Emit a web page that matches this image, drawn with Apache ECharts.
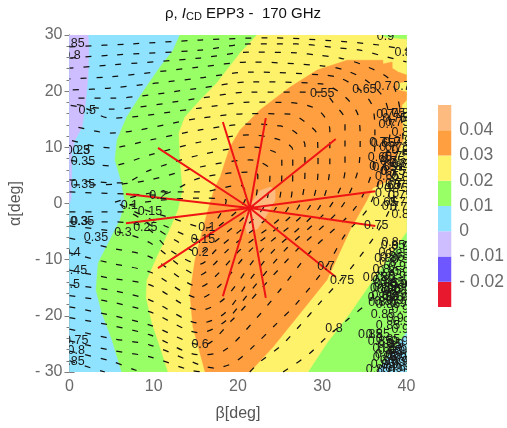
<!DOCTYPE html>
<html><head><meta charset="utf-8">
<style>html,body{margin:0;padding:0;background:#fff}#c{width:507px;height:428px}</style>
<script src="https://cdn.jsdelivr.net/npm/echarts@6/dist/echarts.min.js"></script></head>
<body><div id="c"></div>
<script>
const xTicks=[0,40], yTicks=[-30,30];
const legendLevels=[-0.03,-0.02,-0.01,0,0.01,0.02,0.03,0.04,0.05];
const legendColors=['#E8192F','#6E57FF','#CFBEFF','#8FE3FF','#99FF66','#FFF26B','#FF9F40','#FDBB80'];
// filled bands: [beta, alpha]
const regionBase=[[0,30],[40,30],[40,-30],[0,-30]];
const regionPurple=[[0,30],[2.2,30],[2.3,27.3],[2.2,22.5],[1.85,17.2],[1.5,13.6],[.65,11.3],[.25,9],[.25,5],[.2,1],[0,0]];
const regionGreen=[[13.1,30],[12.3,27.3],[10.75,24.3],[8.7,19.85],[6.8,15.4],[5.65,11.3],[5.4,7.75],[6.2,3.65],[6.6,.1],[6,-2.95],[4.8,-6.5],[3.4,-10.6],[3.15,-15.4],[3.85,-19.5],[5.05,-24.3],[6.2,-30],[40,-30],[40,30]];
const regionYellow=[[22.25,30],[21.4,28.6],[20.25,26.8],[17.5,21.45],[15.5,18.4],[13.7,15.4],[13,12.55],[13.1,8.3],[13.45,2.4],[12.9,-1.15],[11.9,-4.7],[10.4,-9.5],[9.2,-13.6],[9.1,-16.65],[9.8,-21.3],[10.75,-25.55],[11.7,-30],[28.3,-30],[30.55,-24.85],[33.3,-19.5],[36,-13.6],[40,-5.05],[40,30]];
const regionCorner=[[36.5,-30],[37.7,-27.6],[40,-23],[40,-30]];
const regionStrip=[[37,30],[40,30],[40,29.3],[37.6,29.6]];
const regionOrange=[[16.1,-30],[14.65,-22],[14.3,-15.95],[14.9,-10.05],[15.7,-5.25],[16.45,-1.15],[17.15,2.4],[17.9,4.75],[19.05,10.05],[20.25,13.1],[22.6,16.65],[26.2,20.75],[29.4,23.75],[32.95,25.5],[37.2,25.5],[37.2,24.85],[38.3,25.2],[38.3,24.1],[39,23.4],[40,22.9],[40,21.7],[38.9,21.45],[39,20.2],[40,19.85],[40,18.4],[39.45,17.55],[39.6,11.3],[38.4,6.5],[38.05,4.2],[36,2.75],[35.3,.6],[33.3,-4.7],[30.55,-13.6],[27.4,-19.5],[24.15,-25.55],[21.4,-30]];
const regionPeak=[[23.8,2.95],[22.6,2.25],[21.6,.1],[20.7,-3],[21.1,-5.4],[22.3,-4.5],[23.4,-2.05],[24.4,.6],[24.4,2.5]];
// rho contours
const rho10=[[7.1,-.25],[10.75,.6],[15.5,.95],[18.6,.6],[18.35,-.8],[16.35,-4.35],[11.9,-2.5],[7.1,-.25]];
const rho15=[[5.4,.25],[10.75,2.05],[15.5,2.05],[20.25,3.3],[21,1.5],[20.25,-.8],[16.9,-5.05],[15.85,-6.5],[11.35,-4],[5.4,.25]];
const rho20=[[0,-1.5],[6.6,-1.5],[9.55,-3.8],[12.5,-6.5],[15.5,-8.8],[16.1,-8.25],[21.65,-.8],[22.35,5.1],[21.4,5.6],[15.5,4.55],[10.5,1.5],[6.6,1.7],[0,2.05]];
const rho25=[[0,-3.25],[4.8,-3.25],[9,-4.2],[11.9,-8.25],[15.5,-10.8],[17.4,-8.25],[23,-.8],[23.8,5.95],[22.6,7.4],[21.4,7.75],[15.5,6.5],[9.55,4.2],[6,3.45],[0,3.3]];
const rho30=[[0,-4],[6.35,-5.25],[9.55,-7],[15.5,-12.75],[16.7,-11.5],[18.8,-8.25],[24.5,-.8],[25.2,5.95],[25.2,8.1],[23.8,9.5],[21.4,10.05],[15.5,8.65],[9.55,5.95],[6.35,3.65],[3.6,3.8],[0,4.2]];
const rho35=[[0,-6.15],[4.8,-7.9],[9.55,-9.5],[15.5,-14.85],[17.3,-13],[20.25,-8.25],[25.95,-.8],[26.5,5.95],[26.5,9.5],[25,11.3],[21.4,12.2],[15.5,10.95],[9.55,8.65],[4.8,6.7],[0,7.75]];
const rho40=[[0,-8.8],[4.8,-10.6],[9.55,-12.2],[15.5,-16.85],[17.9,-14.5],[21.5,-8.25],[27.1,-.8],[27.95,5.95],[27.95,10.4],[26.8,12.7],[25,13.8],[21.4,14.15],[15.5,13.1],[9.55,11.3],[4.8,9.9],[0,11.3]];
const rho45=[[0,-11.85],[4.8,-13.3],[9.55,-14.5],[15.5,-19],[18.45,-16.85],[22.85,-8.25],[28.4,-.8],[29.5,5.95],[29.4,12.2],[27.95,14.5],[26.2,15.9],[21.4,16],[15.5,15.2],[4.8,12.55],[0,14]];
const rho50=[[0,-14.5],[4.8,-15.4],[9.55,-17.2],[15.5,-21.3],[18.45,-19.5],[21.4,-13.6],[24.3,-8.25],[29.6,-.8],[30.9,6.85],[30.9,13.1],[29.5,16.65],[26.2,17.95],[21.4,18.05],[15.5,17],[4.8,15.2],[1.8,17],[0,17.5]];
const rho55=[[0,-16.4],[4.8,-17.5],[9.55,-19.3],[15.5,-23],[18.45,-21],[21.4,-15.75],[25.6,-8.25],[30.8,-.8],[32.7,5.95],[32.7,14.85],[31.5,17.55],[29.95,19.85],[21.4,19.85],[15.5,18.75],[4.8,16.8],[0,17.9]];
const rho60=[[0,-18.4],[4.8,-19.85],[9.55,-21.65],[15.85,-25.2],[19.3,-20.75],[22.6,-15.4],[27,-8.25],[32.2,-.8],[34.25,5.95],[34.5,11.3],[34.25,15.75],[32.7,19],[29.95,21.3],[21.4,21.65],[15.5,20.55],[4.8,18.75],[0,18.75]];
const rho65=[[0,-20.3],[4.8,-21.65],[9.55,-23.4],[15.5,-26.95],[18.45,-26.1],[22,-20.75],[25,-15.4],[28.8,-8.25],[33.9,-.8],[35.95,5.95],[36.25,13.1],[35.9,17.55],[34.5,20.2],[32.1,22.35],[29.95,22.9],[21.4,23.4],[15.5,22.35],[4.8,20.55],[0,20.2]];
const rho70=[[0,-22.35],[4.8,-24],[9.55,-25.2],[15.5,-28.75],[17.3,-29.3],[19.65,-28.2],[22,-25.2],[24.4,-21.65],[26.8,-18.05],[30.45,-11.3],[32.7,-5.6],[35.45,-.8],[37.1,5.95],[38.05,13.1],[37.45,18.4],[35.45,21.65],[32.7,23.75],[29.95,24.5],[21.4,25.2],[15.5,24.3],[4.8,22.55],[0,22.2]];
const rho75a=[[0,-24.45],[4.8,-26.1],[9.55,-27.3],[14.3,-29.65],[16.1,-30]];
const rho75b=[[21.4,-30],[22.6,-28.2],[25.2,-25.2],[27.6,-21.3],[29.5,-18.05],[32.1,-13.75],[33.9,-10.6],[37,-4],[38.65,1.5],[39.6,9.5],[39.25,16.65],[38.05,22],[34.85,24.65],[32.1,25.9],[29.5,26.4],[27,26.8],[21.4,26.95],[15.5,25.9],[4.8,24.65],[0,24.1]];
const rho80a=[[0,25.9],[4.8,26.4],[15.5,27.3],[21.4,28.4],[27,28.4],[31.75,27.7],[34.5,27.3],[36.85,26.4],[40,25.2]];
const rho80b=[[0,-26.3],[4.8,-28],[7.8,-29.65],[8.6,-30]];
const rho80c=[[25.35,-30],[28.3,-26.95],[30.55,-23.75],[32.95,-20.75],[35.7,-17.2],[38.65,-10.95],[40,-6.5]];
const rho85a=[[0,27.9],[7.2,28.4],[15.5,29.1],[23.8,29.5],[30.9,29],[36.85,28.2],[40,27.3]];
const rho85b=[[0,-28],[2.4,-29.2],[4.2,-30]];
const contours=[rho10,rho15,rho20,rho25,rho30,rho35,rho40,rho45,rho50,rho55,rho60,rho65,rho70,rho75a,rho75b,rho80a,rho80b,rho80c,rho85a,rho85b];
// red spokes
const hub=[21.4,-0.8];
const spokeEnds=[[10.5,9.9],[18.2,14.5],[23.3,15.2],[31.6,11.5],[36.3,2.2],[36.3,-4],[31.6,-13.1],[23.3,-16.8],[18.2,-16.5],[10.5,-11.5],[6.7,-3.5],[6.7,1.7]];
// contour labels
const labelsMain=[[.35,28.4,"0.85"],[.3,26.4,"0.8"],[2.1,16.5,"0.5"],[1,9.35,"0.25"],[1.4,9.35,"0.3"],[1.6,7.4,"0.35"],[1.6,3.3,"0.35"],[10.5,1.5,"0.2"],[7.1,-.4,"0.1"],[9.55,-1.5,"0.15"],[1.5,-3.3,"0.35"],[1.2,-3.3,"0.3"],[3.15,-6.15,"0.35"],[6.35,-5.25,"0.3"],[9,-4.2,"0.25"],[.3,-8.8,"0.4"],[.65,-11.85,"0.45"],[.2,-14.35,"0.5"],[.8,-24.45,"0.75"],[.8,-26.25,"0.8"],[.35,-28.05,"0.85"],[16.3,-4.35,"0.1"],[15.85,-6.5,"0.15"],[15.5,-8.8,"0.2"],[15.5,-25.2,"0.6"],[30,19.5,"0.55"],[35,20.2,"0.65"],[37.2,20.9,"0.7"],[39.45,20.9,"0.7"],[37.5,29.8,"0.9"],[39.6,26.8,"0.8"],[37.7,1.7,"0.75"],[32.35,-13.75,"0.75"],[36.4,-4,"0.75"],[30.45,-11.3,"0.7"],[31.4,-22.3,"0.8"]];
const labelsEdge=[[37.45,15.75,"0.7"],[38.4,16.1,"0.75"],[39.25,16.1,"0.8"],[37.7,14,"0.7"],[38.9,14.35,"0.75"],[39.25,12.55,"0.8"],[36.6,10.8,"0.7"],[37.8,10.05,"0.7"],[38.9,10.05,"0.75"],[39.25,9.5,"0.8"],[36.85,8.1,"0.65"],[38.05,8.1,"0.7"],[38.9,8.3,"0.75"],[36.6,6.5,"0.7"],[38.4,6.5,"0.8"],[39.25,6.85,"0.8"],[37.7,4.75,"0.65"],[38.4,5.6,"0.75"],[39,5.1,"0.7"],[39.25,4.55,"0.8"],[37.45,.1,"0.65"],[38.9,.1,"0.7"],[39.25,1.5,"0.75"],[39.25,-2.05,"0.8"],[38.05,-7,"0.8"],[38.4,-7.4,"0.85"],[39.25,-7.75,"0.9"],[37.7,-8.8,"0.8"],[38.9,-9.15,"0.85"],[37.8,-10.6,"0.8"],[38.9,-11.3,"0.9"],[37.2,-13.25,"0.85"],[36.25,-13.25,"0.75"],[38.9,-13.05,"0.9"],[37.45,-15,"0.85"],[39,-14.5,"0.9"],[38.3,-15.75,"0.9"],[36.85,-16.8,"0.85"],[38.65,-17.2,"0.9"],[39.6,-16.8,"0.95"],[37.8,-18.05,"0.85"],[39.25,-18.95,"0.9"],[37.2,-19.85,"0.85"],[38.65,-20.4,"0.9"],[39.8,-21.1,"0.95"],[37.8,-21.65,"0.85"],[39.25,-22.5,"0.9"],[35.7,-23.4,"0.85"],[36.6,-23.4,"0.85"],[38.65,-25.2,"0.9"],[36.85,-24.65,"0.85"],[38.05,-26.1,"0.85"],[39.45,-26.1,"0.95"],[37.45,-27.5,"0.85"],[39,-27.5,"0.9"],[38.05,-28.75,"0.9"],[39.45,-29.1,"0.9"],[36.6,-29.65,"0.85"]];
const labelsDense=[[37,-13.8,"0.8"],[37.6,-14.2,"0.85"],[38.3,-14,"0.85"],[39.1,-14.4,"0.9"],[36.7,-15.2,"0.8"],[37.9,-15.4,"0.85"],[38.7,-15.1,"0.9"],[39.5,-15.5,"0.9"],[37.3,-16.3,"0.85"],[38.1,-16.6,"0.9"],[39,-16.2,"0.9"],[36.5,-17.6,"0.8"],[37.6,-17.5,"0.85"],[39,-17.8,"0.9"],[37,-11.8,"0.8"],[38,-12.2,"0.85"],[39.3,-12.3,"0.9"],[37.2,-9.8,"0.8"],[38.3,-9.6,"0.85"],[39.3,-10,"0.9"],[38,-25.2,"0.85"],[37.4,-25.8,"0.85"],[38.8,-26.4,"0.9"],[37.7,-26.9,"0.85"],[38.5,-27,"0.9"],[39.5,-27.2,"0.9"],[37.9,-28,"0.9"],[38.8,-28.3,"0.9"],[39.6,-28.2,"0.95"],[37.2,-28.7,"0.85"],[38.5,-29.4,"0.9"],[39.3,-29.8,"0.95"],[37.6,-29.8,"0.9"],[39.2,-24.5,"0.9"],[37.8,-24.3,"0.85"],[38.5,3.5,"0.7"],[39.3,3.2,"0.75"],[37.9,3.2,"0.65"],[38.3,7.5,"0.75"],[39,7.2,"0.8"],[37.9,5.6,"0.7"],[37.4,6.4,"0.65"],[38.8,2.7,"0.75"],[38.1,-.6,"0.7"],[39.5,-.7,"0.75"],[37.2,10.7,"0.65"],[38.3,10.9,"0.7"],[39.5,11,"0.8"],[38.6,15.2,"0.75"]];
const allLabels=labelsMain.concat(labelsEdge,labelsDense);

const GREY='#6a6a6a', FRAME='#7d7d7d';
const band=(pts,color,z)=>({type:'custom',xAxisIndex:0,yAxisIndex:0,data:[[0,0]],silent:true,z,clip:true,
  renderItem:(p,api)=>({type:'polygon',shape:{points:pts.map(q=>api.coord(q))},style:{fill:color,stroke:color,lineWidth:.5}})});
const series=[
  band(regionBase,legendColors[3],1),
  band(regionPurple,legendColors[2],2),
  band(regionGreen,legendColors[4],3),
  band(regionYellow,legendColors[5],4),
  band(regionCorner,legendColors[3],5),
  band(regionStrip,legendColors[4],5),
  band(regionOrange,legendColors[6],6),
  band(regionPeak,legendColors[7],7)
];
contours.forEach(c=>series.push({type:'line',xAxisIndex:0,yAxisIndex:0,data:c,showSymbol:false,smooth:.3,silent:true,z:8,
  lineStyle:{color:'#111111',width:1.25,type:[6,10]}}));
spokeEnds.forEach(e=>series.push({type:'line',xAxisIndex:0,yAxisIndex:0,data:[hub,e],showSymbol:false,silent:true,z:9,
  lineStyle:{color:'#EE1414',width:2}}));
series.push({type:'custom',xAxisIndex:0,yAxisIndex:0,data:allLabels,z:10,clip:true,silent:true,
  encode:{x:0,y:1},
  renderItem:(p,api)=>{const d=allLabels[p.dataIndex];const c=api.coord([d[0],d[1]]);
    return {type:'text',x:c[0],y:c[1],style:{text:d[2],fill:'#1a1a1a',font:'12.5px "Liberation Sans"',align:'center',verticalAlign:'middle'}};}});
const legendData=legendColors.map((c,i)=>[legendLevels[i],legendLevels[i+1],c]);
series.push({type:'custom',xAxisIndex:2,yAxisIndex:2,data:legendData,silent:true,z:3,
  renderItem:(p,api)=>{const d=legendData[p.dataIndex];const a=api.coord([0,d[1]]),b=api.coord([1,d[0]]);
    return {type:'rect',shape:{x:a[0],y:a[1],width:b[0]-a[0],height:b[1]-a[1]},style:{fill:d[2]}};}});
const axLine={show:true,lineStyle:{color:FRAME,width:1}};
const fmtY=v=>v<0?'- '+Math.abs(v):String(v);
const option={animation:false,backgroundColor:'#fff',
 title:{text:'{t|ρ, }{i|I}{s|CD}{t| EPP3 -  170 GHz}',left:238,top:1,textAlign:'center',
   textStyle:{fontWeight:'normal',rich:{t:{fontFamily:'Liberation Sans',fontSize:15,fontWeight:'normal',color:'#111'},i:{fontFamily:'Liberation Sans',fontSize:15,fontWeight:'normal',fontStyle:'italic',color:'#111'},s:{fontFamily:'Liberation Sans',fontSize:11,fontWeight:'normal',color:'#111',padding:[5,0,0,0]}}}},
 grid:[{left:69.5,top:35,width:337,height:337},{left:69.5,top:35,width:337,height:337},{left:438,top:105,width:17,height:202}],
 xAxis:[
  {gridIndex:0,type:'value',min:xTicks[0],max:xTicks[1],interval:10,position:'bottom',name:'β[deg]',nameLocation:'middle',nameGap:34,
   nameTextStyle:{color:'#555',fontSize:16,fontFamily:'Liberation Sans'},axisLine:axLine,splitLine:{show:false},
   axisTick:{show:true,inside:true,length:5,lineStyle:{color:FRAME}},minorTick:{show:true,splitNumber:5,length:3,lineStyle:{color:FRAME}},
   axisLabel:{color:GREY,fontSize:16,fontFamily:'Liberation Sans',margin:7}},
  {gridIndex:1,type:'value',min:xTicks[0],max:xTicks[1],interval:10,position:'top',axisLine:axLine,splitLine:{show:false},
   axisTick:{show:true,inside:true,length:5,lineStyle:{color:FRAME}},minorTick:{show:true,splitNumber:5,length:3,lineStyle:{color:FRAME}},axisLabel:{show:false}},
  {gridIndex:2,type:'value',min:0,max:1,show:false}],
 yAxis:[
  {gridIndex:0,type:'value',min:yTicks[0],max:yTicks[1],interval:10,position:'left',name:'α[deg]',nameLocation:'middle',nameGap:43,nameRotate:90,
   nameTextStyle:{color:'#555',fontSize:16,fontFamily:'Liberation Sans'},axisLine:axLine,splitLine:{show:false},
   axisTick:{show:true,inside:true,length:5,lineStyle:{color:FRAME}},minorTick:{show:true,splitNumber:5,length:3,lineStyle:{color:FRAME}},
   axisLabel:{color:GREY,fontSize:16,fontFamily:'Liberation Sans',margin:7,formatter:fmtY}},
  {gridIndex:1,type:'value',min:yTicks[0],max:yTicks[1],interval:10,position:'right',axisLine:axLine,splitLine:{show:false},
   axisTick:{show:true,inside:true,length:5,lineStyle:{color:FRAME}},minorTick:{show:true,splitNumber:5,length:3,lineStyle:{color:FRAME}},axisLabel:{show:false}},
  {gridIndex:2,type:'value',min:legendLevels[0],max:legendLevels[8],interval:0.01,position:'right',axisLine:{show:false},splitLine:{show:false},
   axisTick:{show:false},
   axisLabel:{color:GREY,fontSize:17.5,fontFamily:'Liberation Sans',margin:8,
    formatter:v=>{const r=Math.round(v*100)/100; if(r===-0.03||r===0.05) return ''; return r===0?'0':(r<0?'- '+Math.abs(r).toFixed(2):r.toFixed(2));}}}],
 series};
echarts.init(document.getElementById('c'),null,{renderer:'canvas'}).setOption(option);
</script></body></html>
